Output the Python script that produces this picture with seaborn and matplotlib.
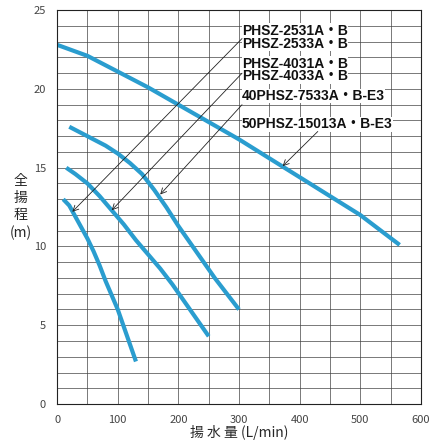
import numpy as np
import matplotlib.pyplot as plt
import seaborn as sns
import pandas as pd

sns.set_style('white')
plt.rcParams['font.family'] = ['Noto Sans CJK JP', 'DejaVu Sans']

# pump curves
a_x = [10, 20, 30, 40, 50, 60, 70, 80, 90, 100, 110, 120, 130]
a_y = [13, 12.6, 11.9, 11.2, 10.5, 9.7, 8.8, 7.8, 6.9, 6.0, 4.9, 3.8, 2.7]
b_x = [15, 30, 50, 70, 90, 110, 130, 150, 170, 190, 210, 230, 250]
b_y = [15, 14.6, 14.0, 13.2, 12.3, 11.4, 10.4, 9.5, 8.6, 7.6, 6.5, 5.4, 4.3]
c_x = [20, 40, 60, 80, 100, 120, 140, 160, 180, 200, 220, 240, 260, 280, 300]
c_y = [17.6, 17.2, 16.8, 16.4, 15.9, 15.3, 14.6, 13.6, 12.5, 11.3, 10.2, 9.1, 8.0, 7.0, 6.0]
d_x = [0, 50, 100, 150, 200, 250, 300, 350, 400, 450, 500, 565]
d_y = [22.8, 22.1, 21.1, 20.1, 19.0, 17.9, 16.8, 15.6, 14.4, 13.2, 12.0, 10.1]

labels = ["PHSZ-2531A・B", "PHSZ-2533A・B", "PHSZ-4031A・B", "PHSZ-4033A・B",
          "40PHSZ-7533A・B-E3", "50PHSZ-15013A・B-E3"]
label_y = [23.7, 22.85, 21.6, 20.8, 19.55, 17.75]

fig = plt.figure(figsize=(4.43, 4.43), dpi=100)
ax = fig.add_axes([0.129, 0.088, 0.821, 0.889])

blue = "#2a9dcf"
for xs, ys in [(a_x, a_y), (b_x, b_y), (c_x, c_y), (d_x, d_y)]:
    df = pd.DataFrame({"x": xs, "y": ys})
    sns.lineplot(data=df, x="x", y="y", ax=ax, color=blue, lw=3, solid_capstyle='butt')

ax.set_xlim(0, 600)
ax.set_ylim(0, 25)
ax.set_xticks(range(0, 601, 100))
ax.set_yticks(range(0, 26, 5))
ax.set_xticks(range(0, 601, 50), minor=True)
ax.set_yticks(range(0, 26, 1), minor=True)
ax.grid(True, which='both', color='#444444', lw=0.5)
ax.set_axisbelow(True)
ax.tick_params(labelsize=8, length=0, pad=8, which='both', labelcolor='#444444')
for s in ax.spines.values():
    s.set_color('#222222')
ax.set_xlabel("揚 水 量 (L/min)", fontsize=10, labelpad=0)
ax.set_ylabel("全\n揚\n程\n(m)", rotation=0, fontsize=10, linespacing=1.3)
ax.yaxis.set_label_coords(-0.1, 0.5)
ax.yaxis.label.set_va('center')

for t, y in zip(labels, label_y):
    ax.text(305, y, t, fontsize=10, fontweight='bold', va='center', ha='left',
            family=['Liberation Sans', 'Noto Sans CJK JP'], color='#111111',
            bbox=dict(facecolor='white', edgecolor='none', pad=0.3))

arrow = dict(arrowstyle='->', lw=0.6, color='#222222', shrinkA=0, shrinkB=0)
ax.annotate("", xy=(25, 12.2), xytext=(305, 23.2), arrowprops=arrow)
ax.annotate("", xy=(90, 12.3), xytext=(305, 21.0), arrowprops=arrow)
ax.annotate("", xy=(170, 13.3), xytext=(305, 19.0), arrowprops=arrow)
ax.annotate("", xy=(372, 15.1), xytext=(430, 17.3), arrowprops=arrow)

fig.savefig("out.png", dpi=100)
